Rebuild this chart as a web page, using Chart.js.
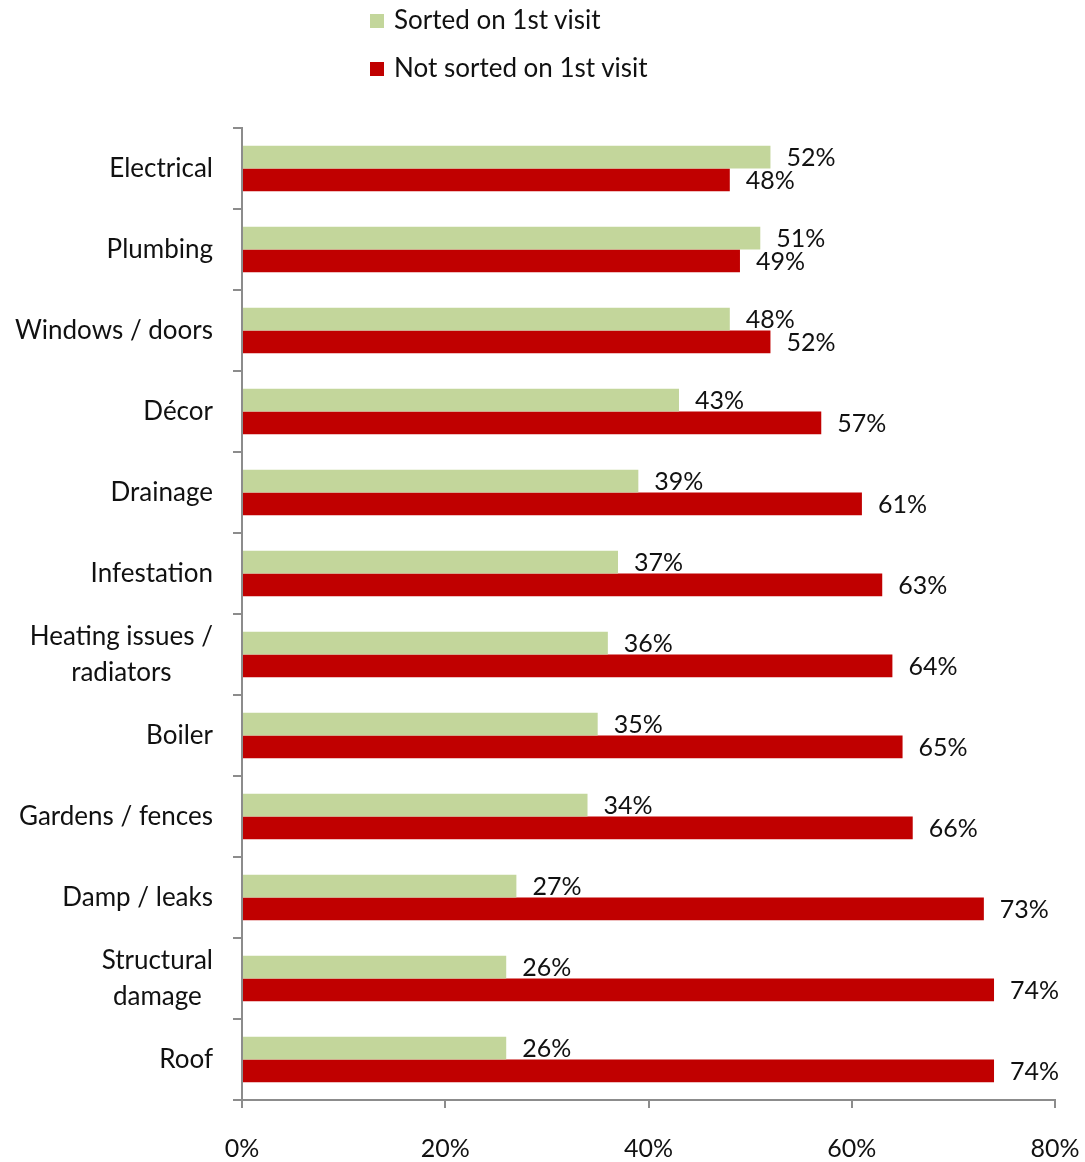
<!DOCTYPE html>
<html>
<head>
<meta charset="utf-8">
<script src="https://cdn.jsdelivr.net/npm/chart.js@4/dist/chart.umd.min.js"></script>
<style>
  body { margin: 0; background: #fff; }
  #wrap { position: relative; width: 1085px; height: 1162px; font-family: Lato, sans-serif; color: #111; }
  #chart { position: absolute; left: 0; top: 0; }
  .legend { position: absolute; left: 370px; font-size: 26px; line-height: 28px; }
  .legend span.box { display: inline-block; width: 14px; height: 14px; margin-right: 10px; vertical-align: 1px; }
</style>
</head>
<body>
<div id="wrap">
  <canvas id="chart" width="1085" height="1162"></canvas>
  <div class="legend" style="top:5px"><span class="box" style="background:#C3D69B"></span>Sorted on 1st visit</div>
  <div class="legend" style="top:53px"><span class="box" style="background:#C00000"></span>Not sorted on 1st visit</div>
</div>
<script>
const categories = [
  'Electrical',
  'Plumbing',
  'Windows / doors',
  'Décor',
  'Drainage',
  'Infestation',
  ['Heating issues /', 'radiators'],
  'Boiler',
  'Gardens / fences',
  'Damp / leaks',
  ['Structural', 'damage'],
  'Roof',
];
const sortedFirst = [52, 51, 48, 43, 39, 37, 36, 35, 34, 27, 26, 26];
const notSortedFirst = [48, 49, 52, 57, 61, 63, 64, 65, 66, 73, 74, 74];
const xTicks = [0, 20, 40, 60, 80];

const FONT = 'Lato, sans-serif';
const TEXT = '#111';
const AXIS = '#8c8c8c';

// y labels: lines centered on each other, right edge near the axis
const yLabelPlugin = {
  id: 'yLabels',
  afterDraw(chart) {
    const ctx = chart.ctx;
    const y = chart.scales.y;
    ctx.save();
    ctx.font = '26px ' + FONT;
    ctx.fillStyle = TEXT;
    ctx.textAlign = 'center';
    ctx.textBaseline = 'middle';
    categories.forEach((lab, i) => {
      const lines = Array.isArray(lab) ? lab : [lab];
      const w = Math.max(...lines.map(l => ctx.measureText(l).width));
      const cx = 213 - w / 2;
      const cy = y.getPixelForValue(i);
      const lh = 36;
      lines.forEach((l, j) => {
        ctx.fillText(l, cx, cy + (j - (lines.length - 1) / 2) * lh);
      });
    });
    ctx.restore();
  }
};

const valueLabelPlugin = {
  id: 'valueLabels',
  afterDatasetsDraw(chart) {
    const ctx = chart.ctx;
    ctx.save();
    ctx.font = '25px ' + FONT;
    ctx.fillStyle = TEXT;
    ctx.textAlign = 'left';
    ctx.textBaseline = 'middle';
    chart.data.datasets.forEach((ds, di) => {
      chart.getDatasetMeta(di).data.forEach((bar, i) => {
        ctx.fillText(ds.data[i] + '%', bar.x + 16, bar.y + 1);
      });
    });
    ctx.restore();
  }
};

new Chart(document.getElementById('chart'), {
  type: 'bar',
  data: {
    labels: categories,
    datasets: [
      { label: 'Sorted on 1st visit', data: sortedFirst, backgroundColor: '#C3D69B' },
      { label: 'Not sorted on 1st visit', data: notSortedFirst, backgroundColor: '#C00000' },
    ],
  },
  options: {
    indexAxis: 'y',
    responsive: false,
    animation: false,
    layout: { padding: { top: 128, right: 30, left: 0, bottom: 0 } },
    datasets: { bar: { categoryPercentage: 0.56, barPercentage: 1 } },
    plugins: { legend: { display: false }, tooltip: { enabled: false } },
    scales: {
      x: {
        min: 0,
        max: 80,
        afterBuildTicks: (s) => { s.ticks = xTicks.map(v => ({ value: v })); },
        afterFit: (s) => { s.height = 62; s.paddingLeft = 0; s.paddingRight = 0; },
        ticks: {
          callback: (v) => v + '%',
          font: { family: FONT, size: 25 },
          color: TEXT,
          padding: 26,
          maxRotation: 0,
        },
        grid: { drawOnChartArea: false, tickLength: 8, color: AXIS, lineWidth: 2 },
        border: { color: AXIS, width: 2 },
      },
      y: {
        afterFit: (s) => { s.width = 242; s.paddingTop = 0; s.paddingBottom = 0; },
        ticks: { display: false },
        grid: { drawOnChartArea: false, offset: true, tickLength: 9, color: AXIS, lineWidth: 2 },
        border: { color: AXIS, width: 2 },
      },
    },
  },
  plugins: [yLabelPlugin, valueLabelPlugin],
});
</script>
</body>
</html>
